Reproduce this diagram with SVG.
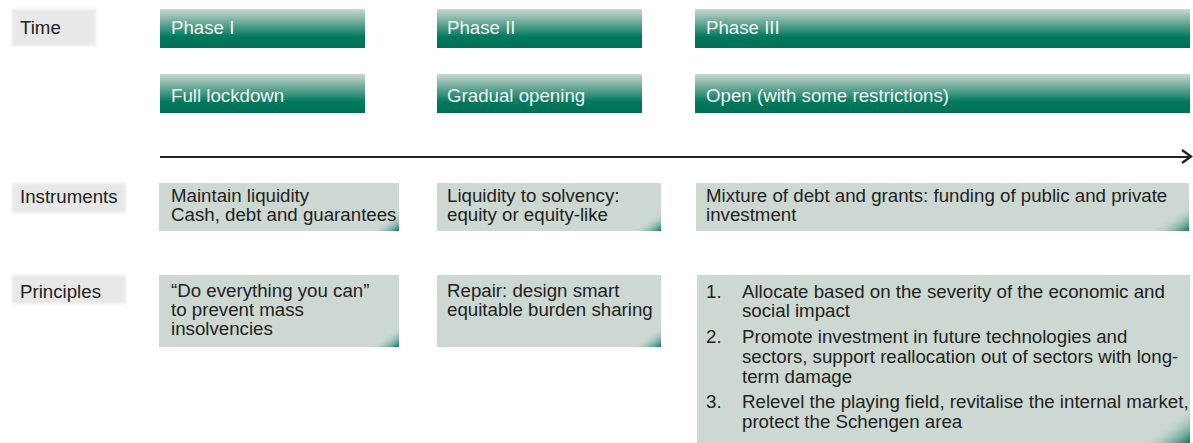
<svg xmlns="http://www.w3.org/2000/svg" width="1193" height="443" viewBox="0 0 1193 443">
<defs>
<linearGradient id="hdr" x1="0" y1="0" x2="0" y2="1">
<stop offset="0" stop-color="#ccd8d1"/>
<stop offset="0.72" stop-color="#00785c"/>
<stop offset="1" stop-color="#007055"/>
</linearGradient>
<linearGradient id="corner" x1="0" y1="0" x2="1" y2="1">
<stop offset="0.5" stop-color="#cdd8d2" stop-opacity="0"/>
<stop offset="1" stop-color="#00785c"/>
</linearGradient>
<filter id="soft" x="-10%" y="-20%" width="120%" height="140%">
<feGaussianBlur stdDeviation="1.6"/>
</filter>
</defs>
<style>
text{font-family:"Liberation Sans",Arial,sans-serif;font-size:18.7px;fill:#222}
.hd{fill:#f2f2f2}
.box{fill:#cdd8d2}
.lbl{fill:#e8e8e8}
.cr{fill:url(#corner)}
</style>
<rect width="1193" height="443" fill="#ffffff"/>

<g id="label-time"><rect class="lbl" x="12" y="9" width="84" height="37" filter="url(#soft)"/><text x="20" y="34">Time</text></g>
<g id="label-instruments"><rect class="lbl" x="12" y="183" width="114" height="30" filter="url(#soft)"/><text x="20" y="203">Instruments</text></g>
<g id="label-principles"><rect class="lbl" x="12" y="275" width="114" height="29" filter="url(#soft)"/><text x="20" y="298">Principles</text></g>

<g id="phase1"><rect x="160" y="9" width="205" height="39" fill="url(#hdr)"/><text class="hd" x="171" y="34">Phase I</text></g>
<g id="phase2"><rect x="437" y="9" width="205" height="39" fill="url(#hdr)"/><text class="hd" x="447" y="34">Phase II</text></g>
<g id="phase3"><rect x="695" y="9" width="495" height="39" fill="url(#hdr)"/><text class="hd" x="706" y="34">Phase III</text></g>

<g id="state1"><rect x="160" y="74" width="205" height="39" fill="url(#hdr)"/><text class="hd" x="171" y="102">Full lockdown</text></g>
<g id="state2"><rect x="437" y="74" width="205" height="39" fill="url(#hdr)"/><text class="hd" x="447" y="102">Gradual opening</text></g>
<g id="state3"><rect x="695" y="74" width="495" height="39" fill="url(#hdr)"/><text class="hd" x="706" y="102">Open (with some restrictions)</text></g>

<g id="connectors">
<line x1="160" y1="157" x2="1190" y2="157" stroke="#222" stroke-width="2"/>
<polyline points="1182,150 1191,156.5 1182,163" fill="none" stroke="#222" stroke-width="2.4"/>
</g>

<g id="instr1"><rect class="box" x="159" y="183" width="240" height="48"/><polygon class="cr" points="369,231 399,211 399,231"/><text x="171" y="202">Maintain liquidity</text><text x="171" y="221">Cash, debt and guarantees</text></g>
<g id="instr2"><rect class="box" x="437" y="183" width="224" height="48"/><polygon class="cr" points="631,231 661,211 661,231"/><text x="447" y="202">Liquidity to solvency:</text><text x="447" y="221">equity or equity-like</text></g>
<g id="instr3"><rect class="box" x="696" y="183" width="493" height="48"/><polygon class="cr" points="1149,231 1189,203 1189,231"/><text x="706" y="202">Mixture of debt and grants: funding of public and private</text><text x="706" y="221">investment</text></g>

<g id="princ1"><rect class="box" x="159" y="275" width="240" height="72"/><polygon class="cr" points="369,347 399,325 399,347"/><text x="171" y="297">“Do everything you can”</text><text x="171" y="316">to prevent mass</text><text x="171" y="335">insolvencies</text></g>
<g id="princ2"><rect class="box" x="437" y="275" width="224" height="72"/><polygon class="cr" points="631,347 661,325 661,347"/><text x="447" y="297">Repair: design smart</text><text x="447" y="316">equitable burden sharing</text></g>
<g id="princ3"><rect class="box" x="697" y="275" width="493" height="168"/><polygon class="cr" points="1140,443 1190,405 1190,443"/>
<text x="706" y="298">1.</text><text x="742" y="298">Allocate based on the severity of the economic and</text><text x="742" y="317">social impact</text>
<text x="706" y="343">2.</text><text x="742" y="343">Promote investment in future technologies and</text><text x="742" y="363">sectors, support reallocation out of sectors with long-</text><text x="742" y="383">term damage</text>
<text x="706" y="408">3.</text><text x="742" y="408">Relevel the playing field, revitalise the internal market,</text><text x="742" y="428">protect the Schengen area</text>
</g>
</svg>
